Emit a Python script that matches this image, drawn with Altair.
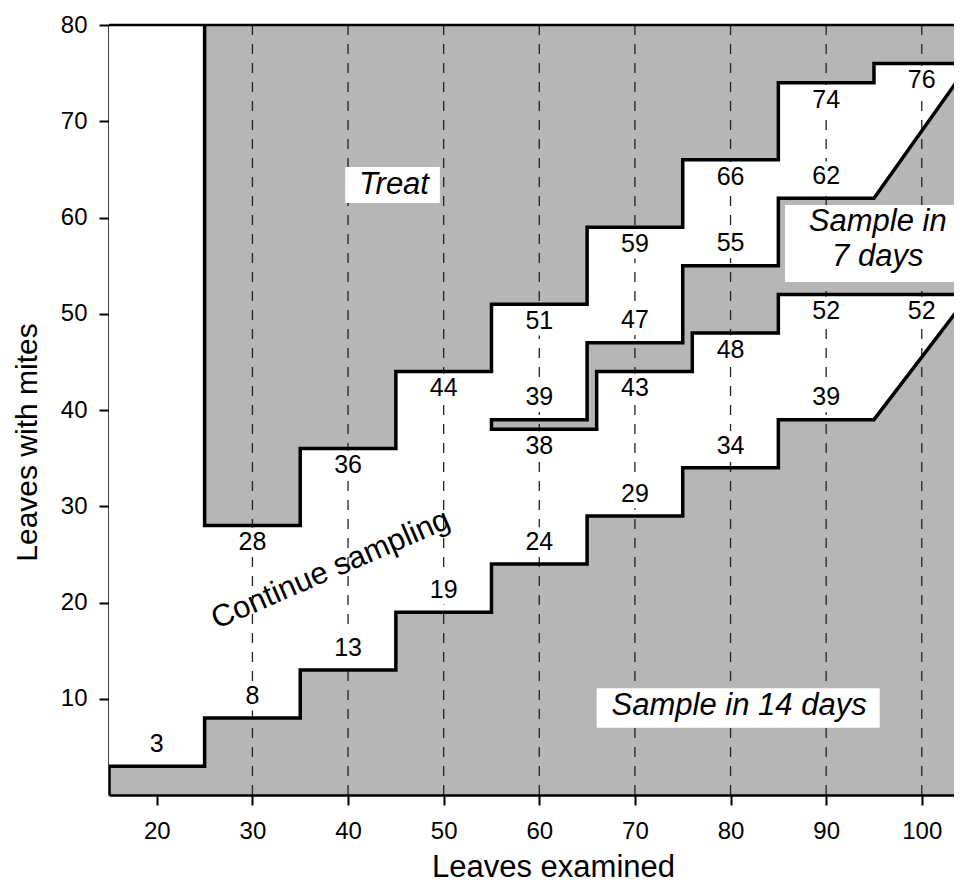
import altair as alt
import pandas as pd

FONT = "Liberation Sans"
SHADE = "#b6b6b6"

# ---- decision boundaries (x where a step starts, level of the step) ----
treat_x = [25, 35, 45, 55, 65, 75, 85, 95]
treat_y = [28, 36, 44, 51, 59, 66, 74, 76]
low_x = [15, 25, 35, 45, 55, 65, 75, 85]
low_y = [3, 8, 13, 19, 24, 29, 34, 39]
band_top_x = [55, 65, 75, 85]
band_top_y = [39, 47, 55, 62]
band_bot_x = [55, 66, 76, 85]
band_bot_y = [38, 44, 48, 52]
diag_x = [95, 105]
diag_low_y = [39, 52]
diag_top_y = [62, 76]
X_MIN, X_END, Y_TOP = 15, 105, 80
X_VIEW_MAX = 103.37

x_ticks = [20, 30, 40, 50, 60, 70, 80, 90, 100]
y_ticks = [10, 20, 30, 40, 50, 60, 70, 80]
guide_x = [30, 40, 50, 60, 70, 80, 90, 100]

# ---- number labels ----
above_x = [20, 30, 40, 50, 60, 70, 80, 90, 60, 70, 80, 90]
above_val = [3, 8, 13, 19, 24, 29, 34, 39, 39, 47, 55, 62]
below_x = [30, 40, 50, 60, 70, 80, 90, 100, 60, 70, 80, 90, 100]
below_val = [28, 36, 44, 51, 59, 66, 74, 76, 38, 43, 48, 52, 52]
below_line = [28, 36, 44, 51, 59, 66, 74, 76, 38, 44, 48, 52, 52]

# ---- region annotations ----
ann_text = ["Treat", "Sample in\n7 days", "Sample in 14 days"]
ann_x = [44.8, 95.4, 80.9]
ann_y = [63.4, 59.5, 9.2]
box_x = [39.7, 85.7, 66.0]
box_x2 = [49.6, 103.7, 95.6]
box_y = [61.5, 53.3, 7.0]
box_y2 = [65.25, 61.3, 11.1]
cont_text = ["Continue sampling"]
cont_x = [38.2]
cont_y = [23.4]


def step_at(xs, ys, a):
    v = None
    for xx, yy in zip(xs, ys):
        if xx <= a:
            v = yy
    return v


def stair(xs, ys, x_end):
    pts = []
    for i, (xx, yy) in enumerate(zip(xs, ys)):
        nx = xs[i + 1] if i + 1 < len(xs) else x_end
        pts += [(xx, yy), (nx, yy)]
    return pts


# white (continue sampling) rectangles
breaks = sorted(set(treat_x + low_x + band_top_x + band_bot_x))
edges = [b for b in breaks if b < diag_x[0]] + [diag_x[0]]
rows = []
for a, b in zip(edges[:-1], edges[1:]):
    lo = step_at(low_x, low_y, a)
    hi = Y_TOP if a < treat_x[0] else step_at(treat_x, treat_y, a)
    if a >= band_top_x[0]:
        rows.append(dict(x=a, x2=b, y=lo, y2=step_at(band_bot_x, band_bot_y, a)))
        rows.append(dict(x=a, x2=b, y=step_at(band_top_x, band_top_y, a), y2=hi))
    else:
        rows.append(dict(x=a, x2=b, y=lo, y2=hi))
white_df = pd.DataFrame(rows)

diag_df = pd.DataFrame([
    dict(g="low", x=diag_x[0], y=diag_low_y[0], y2=band_bot_y[-1]),
    dict(g="low", x=diag_x[1], y=diag_low_y[1], y2=band_bot_y[-1]),
    dict(g="top", x=diag_x[0], y=diag_top_y[0], y2=treat_y[-1]),
    dict(g="top", x=diag_x[1], y=diag_top_y[1], y2=treat_y[-1]),
])

treat_pts = [(treat_x[0], Y_TOP)] + stair(treat_x, treat_y, X_END)
low_pts = stair(low_x, low_y, diag_x[0]) + [(diag_x[1], diag_low_y[1])]
band_pts = list(reversed(stair(band_top_x, band_top_y, diag_x[0]) + [(diag_x[1], diag_top_y[1])])) \
    + stair(band_bot_x, band_bot_y, X_END)
line_rows = []
for name, pts in [("treat", treat_pts), ("low", low_pts), ("band", band_pts)]:
    for i, (xx, yy) in enumerate(pts):
        line_rows.append(dict(path=name, i=i, x=xx, y=yy))
line_df = pd.DataFrame(line_rows)

lab_rows = []
for xx, v in zip(above_x, above_val):
    lab_rows.append(dict(x=xx, t=str(v), y=v + 2.3))
for xx, v, ln in zip(below_x, below_val, below_line):
    lab_rows.append(dict(x=xx, t=str(v), y=ln - 1.75))
lab_df = pd.DataFrame(lab_rows)

guide_df = pd.DataFrame({"x": guide_x})
top_df = pd.DataFrame({"y": [Y_TOP]})
ann_df = pd.DataFrame({"t": ann_text, "x": ann_x, "y": ann_y})
box_df = pd.DataFrame({"x": box_x, "x2": box_x2, "y": box_y, "y2": box_y2})
cont_df = pd.DataFrame({"t": cont_text, "x": cont_x, "y": cont_y})

x_scale = alt.Scale(domain=[X_MIN, X_VIEW_MAX], nice=False, zero=False)
y_scale = alt.Scale(domain=[0, Y_TOP], nice=False, zero=False)
common_axis = dict(grid=False, domainColor="black", domainWidth=2.5, tickColor="black",
                   tickWidth=2, tickSize=10, labelFontSize=24, labelColor="black",
                   labelFont=FONT, titleFont=FONT, titleFontWeight="normal",
                   titleColor="black", labelFlush=False, labelOverlap=False)
x_axis = alt.Axis(values=x_ticks, title="Leaves examined", labelPadding=14,
                  titleFontSize=31, titleX=444, titleY=81, titleBaseline="alphabetic",
                  titleAlign="center", **common_axis)
y_axis = alt.Axis(values=y_ticks, title="Leaves with mites", labelPadding=12,
                  titleFontSize=30, titleX=-73, titleY=417, titleAngle=270,
                  titleBaseline="alphabetic", titleAlign="center", **common_axis)
X = alt.X("x:Q", scale=x_scale, axis=x_axis)
Y = alt.Y("y:Q", scale=y_scale, axis=y_axis)

white = alt.Chart(white_df).mark_rect(color="white", stroke="white", strokeWidth=1, clip=True).encode(
    x=X, x2="x2:Q", y=Y, y2="y2:Q")
white_diag = alt.Chart(diag_df).mark_area(color="white", stroke="white", strokeWidth=1, clip=True).encode(
    x=X, y=Y, y2="y2:Q", detail="g:N")
guides = alt.Chart(guide_df).mark_rule(color="#222222", strokeWidth=1.3, strokeDash=[10, 9]).encode(x=X)
masks = alt.Chart(lab_df).mark_point(shape="square", filled=True, color="white", opacity=1,
                                     size=850).encode(x=X, y=Y)
top_border = alt.Chart(top_df).mark_rule(color="black", strokeWidth=2.5).encode(y=Y)
lines = alt.Chart(line_df).mark_line(color="black", strokeWidth=3.5, clip=True,
                                     strokeJoin="miter", strokeCap="square").encode(
    x=X, y=Y, detail="path:N", order="i:Q")
boxes = alt.Chart(box_df).mark_rect(color="white", clip=True).encode(x=X, x2="x2:Q", y=Y, y2="y2:Q")
ann = alt.Chart(ann_df).mark_text(font=FONT, fontSize=31, fontStyle="italic", color="black",
                                  baseline="middle", align="center", lineBreak="\n",
                                  lineHeight=35).encode(x=X, y=Y, text="t:N")
cont = alt.Chart(cont_df).mark_text(font=FONT, fontSize=31, color="black", baseline="middle",
                                    align="center", angle=336.5).encode(x=X, y=Y, text="t:N")
labels = alt.Chart(lab_df).mark_text(font=FONT, fontSize=25, color="black", baseline="middle",
                                     align="center").encode(x=X, y=Y, text="t:N")

chart = alt.layer(white, white_diag, guides, masks, top_border, lines, boxes, ann, cont, labels).properties(
    width=845, height=770,
    padding={"left": 101, "top": 17, "right": 0, "bottom": 90},
    autosize=alt.AutoSizeParams(type="none"),
).configure_view(fill=SHADE, stroke="transparent")

chart.save("out.html", embed_options={"renderer": "svg", "actions": False})
